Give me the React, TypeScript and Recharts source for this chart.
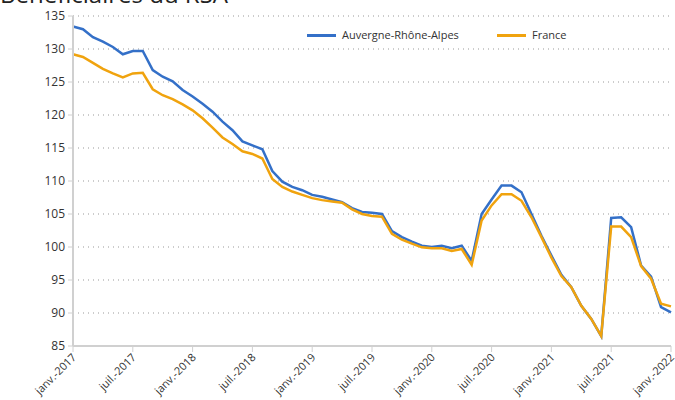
import { LineChart, Line, XAxis, YAxis, CartesianGrid } from "recharts";

// months since janv. 2017 (0..60)
const tickLabels = [
  "janv.-2017", "juil.-2017", "janv.-2018", "juil.-2018", "janv.-2019", "juil.-2019",
  "janv.-2020", "juil.-2020", "janv.-2021", "juil.-2021", "janv.-2022",
];

const auvergne = [
  133.4, 133.0, 131.8, 131.1, 130.3, 129.2, 129.7, 129.7, 126.8, 125.8, 125.1, 123.8,
  122.8, 121.7, 120.5, 119.0, 117.7, 116.0, 115.4, 114.8, 111.5, 109.9, 109.1, 108.6,
  107.9, 107.6, 107.2, 106.8, 105.9, 105.3, 105.2, 105.0, 102.4, 101.5, 100.8, 100.2,
  100.0, 100.2, 99.8, 100.2, 97.9, 105.0, 107.2, 109.3, 109.3, 108.3, 105.0, 101.7,
  98.7, 95.8, 93.9, 91.1, 89.1, 86.5, 104.4, 104.5, 103.0, 97.2, 95.5, 90.9, 90.1,
];

const france = [
  129.2, 128.8, 127.9, 127.0, 126.3, 125.7, 126.3, 126.4, 123.9, 123.0, 122.4, 121.6,
  120.7, 119.5, 118.1, 116.6, 115.6, 114.5, 114.1, 113.4, 110.3, 109.1, 108.4, 107.9,
  107.4, 107.1, 106.9, 106.7, 105.7, 105.0, 104.7, 104.6, 102.0, 101.1, 100.5, 99.95,
  99.8, 99.8, 99.4, 99.7, 97.3, 104.0, 106.3, 108.0, 108.0, 107.0, 104.5, 101.5,
  98.4, 95.6, 93.9, 91.1, 89.1, 86.5, 103.1, 103.1, 101.5, 97.1, 95.2, 91.4, 91.0,
];

const yTicks = [85, 90, 95, 100, 105, 110, 115, 120, 125, 130, 135];
const xTicks = [0, 6, 12, 18, 24, 30, 36, 42, 48, 54, 60];

const data = auvergne.map((v, i) => ({ m: i, ara: v, fr: france[i] }));

const BLUE = "#3470c8";
const ORANGE = "#f0a30e";
const FONT = "'Open Sans', sans-serif";

function XTick(props: any) {
  const { x, y, payload } = props;
  const label = tickLabels[xTicks.indexOf(payload.value)];
  const ax = x + 4;
  const ay = y + 4;
  return (
    <text
      x={ax}
      y={ay}
      transform={`rotate(-45 ${ax} ${ay})`}
      textAnchor="end"
      fontSize={11}
      fontFamily={FONT}
      fill="#333"
    >
      {label}
    </text>
  );
}

function LegendBox() {
  const item = (color: string, text: string, left: number) => (
    <div style={{ position: "absolute", left, top: 0, display: "flex", alignItems: "center", height: 16 }}>
      <div style={{ width: 29, height: 3, background: color, marginRight: 6 }} />
      <span style={{ fontSize: 11, fontFamily: FONT, color: "#333", lineHeight: "16px" }}>{text}</span>
    </div>
  );
  return (
    <div style={{ position: "absolute", left: 0, top: 27, width: 675, height: 16 }}>
      {item(BLUE, "Auvergne-Rhône-Alpes", 307)}
      {item(ORANGE, "France", 497)}
    </div>
  );
}

export default function App() {
  return (
    <div style={{ position: "absolute", left: 0, top: 0, width: 675, height: 400, overflow: "hidden", background: "#fff" }}>
      <LineChart width={675} height={400} data={data} margin={{ top: 16, right: 4, left: 0, bottom: 0 }}>
        <CartesianGrid vertical={false} stroke="#999" strokeDasharray="1 4" />
        <XAxis
          dataKey="m"
          type="number"
          domain={[0, 60]}
          ticks={xTicks}
          interval={0}
          height={54}
          tick={<XTick />}
          tickSize={6}
          axisLine={{ stroke: "#d0d0d0", strokeWidth: 2 }}
          tickLine={{ stroke: "#d0d0d0" }}
        />
        <YAxis
          domain={[85, 135]}
          ticks={yTicks}
          interval={0}
          width={73}
          tickSize={5}
          tickMargin={3}
          tick={{ fontSize: 12, fontFamily: FONT, fill: "#333" }}
          axisLine={{ stroke: "#d0d0d0", strokeWidth: 2 }}
          tickLine={{ stroke: "#d0d0d0" }}
        />
        <Line
          type="linear"
          dataKey="ara"
          name="Auvergne-Rhône-Alpes"
          stroke={BLUE}
          strokeWidth={2.5}
          dot={false}
          isAnimationActive={false}
        />
        <Line
          type="linear"
          dataKey="fr"
          name="France"
          stroke={ORANGE}
          strokeWidth={2.5}
          dot={false}
          isAnimationActive={false}
        />
      </LineChart>
      <svg width={675} height={30} style={{ position: "absolute", left: 0, top: 0 }}>
        <text x={0} y={3} fontSize={24} fontFamily={FONT} fill="#222">
          Bénéficiaires du RSA
        </text>
      </svg>
      <LegendBox />
    </div>
  );
}
